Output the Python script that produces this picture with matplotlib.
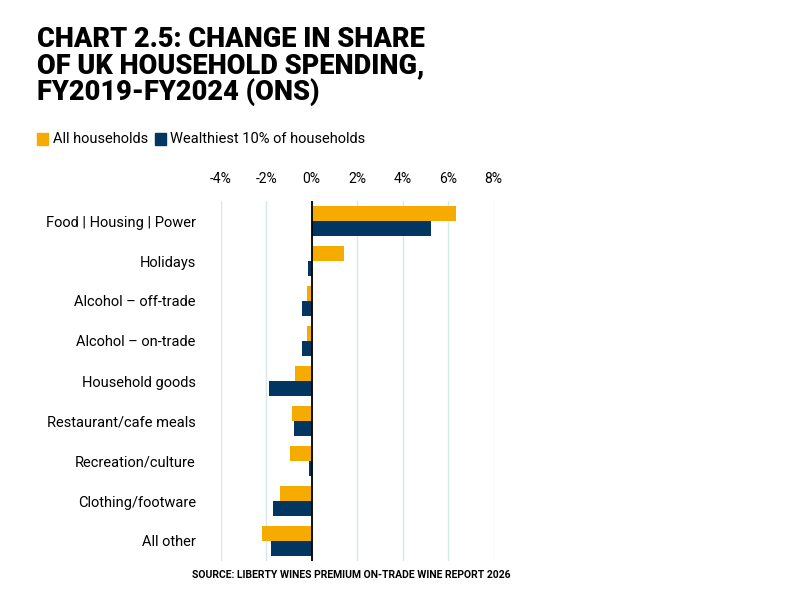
import matplotlib.pyplot as plt
import numpy as np

categories = ["Food | Housing | Power", "Holidays", "Alcohol – off-trade",
              "Alcohol – on-trade", "Household goods", "Restaurant/cafe meals",
              "Recreation/culture", "Clothing/footware", "All other"]
all_households = [6.35, 1.4, -0.2, -0.23, -0.72, -0.87, -0.96, -1.38, -2.17]
wealthiest_10 = [5.23, -0.15, -0.45, -0.45, -1.9, -0.79, -0.12, -1.7, -1.79]
tick_values = [-4, -2, 0, 2, 4, 6, 8]

ORANGE = "#f6ab00"
NAVY = "#00365f"

plt.rcParams['font.family'] = ['Roboto', 'DejaVu Sans']

fig = plt.figure(figsize=(8, 6), dpi=100)
ax = fig.add_axes([0.276, 0.065, 0.341, 0.6])

y = np.arange(len(categories))
h = 0.375
ax.barh(y - h / 2, all_households, height=h, color=ORANGE, zorder=3)
ax.barh(y + h / 2, wealthiest_10, height=h, color=NAVY, zorder=3)

ax.set_xlim(-4, 8)
ax.set_ylim(len(categories) - 0.5, -0.5)
ax.set_xticks(tick_values)
ax.set_xticklabels([f"{v}%" for v in tick_values], fontsize=10)
ax.xaxis.tick_top()
ax.tick_params(axis='x', length=0, pad=11)
ax.set_yticks(y)
ax.set_yticklabels(categories, fontsize=10.5)
ax.tick_params(axis='y', length=0, pad=18)
ax.grid(axis='x', color="#d5e9ea", linewidth=1, zorder=0)
ax.axvline(0, color="black", linewidth=1.3, zorder=4)
for s in ax.spines.values():
    s.set_visible(False)

fig.text(0.046, 0.957, "CHART 2.5: CHANGE IN SHARE\nOF UK HOUSEHOLD SPENDING,\nFY2019-FY2024 (ONS)",
         fontsize=19.5, fontweight='black', va='top', ha='left', linespacing=0.97)

# legend
fig.patches.append(plt.Rectangle((0.046, 0.758), 0.014, 0.021, color=ORANGE, transform=fig.transFigure))
fig.text(0.066, 0.768, "All households", fontsize=10.5, va='center')
fig.patches.append(plt.Rectangle((0.194, 0.758), 0.014, 0.021, color=NAVY, transform=fig.transFigure))
fig.text(0.213, 0.768, "Wealthiest 10% of households", fontsize=10.5, va='center')

fig.text(0.439, 0.041, "SOURCE: LIBERTY WINES PREMIUM ON-TRADE WINE REPORT 2026",
         fontsize=7.5, fontweight='bold', ha='center', va='center')

fig.savefig("out.png", dpi=100, facecolor='white')
